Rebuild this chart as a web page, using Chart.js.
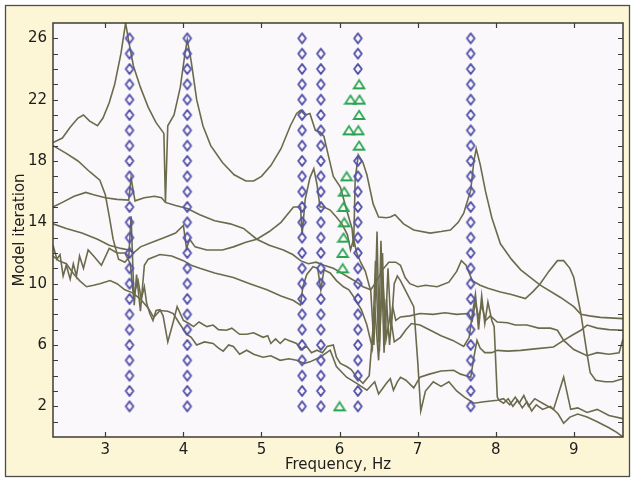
<!DOCTYPE html>
<html>
<head>
<meta charset="utf-8">
<script src="https://cdn.jsdelivr.net/npm/chart.js@4.4.1/dist/chart.umd.min.js"></script>
<style>
  html, body { margin: 0; padding: 0; background: #ffffff; }
</style>
</head>
<body>
<canvas id="modeChart" width="634" height="481"></canvas>
<script>
// ---- data ----
// axis
const xRange = [2.33, 9.63];
const yRange = [0, 27];
const yLabelValues = [2, 6, 10, 14, 18, 22, 26];

// diamond columns (frequency, Hz) and the iterations marked in each
const diamondFreqs = [3.31, 4.05, 5.52, 5.76, 6.235, 7.68];
const diamondIters = [
    [2, 3, 4, 5, 6, 7, 8, 9, 10, 11, 12, 13, 14, 15, 16, 17, 18, 19, 20, 21, 22, 23, 24, 25, 26],
    [2, 3, 4, 5, 6, 7, 8, 9, 10, 11, 12, 13, 14, 15, 16, 17, 18, 19, 20, 21, 22, 23, 24, 25, 26],
    [2, 3, 4, 5, 6, 7, 8, 9, 10, 11, 12, 13, 14, 15, 16, 17, 18, 19, 20, 21, 22, 23, 24, 25, 26],
    [2, 3, 4, 5, 6, 7, 8, 9, 10, 11, 12, 13, 14, 15, 16, 17, 18, 19, 20, 21, 22, 23, 24, 25],
    [2, 3, 4, 5, 6, 7, 8, 9, 10, 11, 12, 13, 14, 15, 16, 17, 18, 24, 25, 26],
    [2, 3, 4, 5, 6, 7, 8, 9, 10, 11, 12, 13, 14, 15, 16, 17, 18, 19, 20, 21, 22, 23, 24, 25, 26]
];

// green triangles
const triFreqs = [6.0, 6.04, 6.04, 6.05, 6.06, 6.05, 6.06, 6.09, 6.25, 6.12, 6.24, 6.25, 6.14, 6.255, 6.25];
const triIters = [2, 11, 12, 13, 14, 15, 16, 17, 19, 20, 20, 21, 22, 22, 23];

// olive curves, [frequency, iteration]
const curve1 = [[2.33,19.2],[2.45,19.5],[2.55,20.2],[2.65,20.8],[2.72,21.0],[2.8,20.6],[2.9,20.3],[2.97,20.8],[3.05,21.8],[3.12,23.0],[3.2,25.0],[3.26,27.0],[3.3,25.8],[3.36,24.2],[3.45,22.8],[3.55,21.5],[3.65,20.5],[3.75,19.8],[3.77,15.3],[3.8,20.3],[3.88,21.0],[3.96,22.8],[4.02,25.0],[4.05,25.9],[4.1,24.5],[4.17,22.0],[4.25,20.3],[4.35,19.0],[4.5,17.9],[4.65,17.1],[4.8,16.7],[4.9,16.7],[5.0,17.0],[5.12,17.7],[5.25,18.8],[5.37,20.3],[5.45,21.1],[5.5,21.3],[5.56,21.0],[5.62,21.1],[5.69,20.0],[5.75,19.9],[5.8,19.6],[5.85,18.5],[5.92,17.0],[6.01,16.3],[6.09,14.8],[6.16,13.6],[6.18,12.4],[6.2,16.8],[6.24,18.4],[6.3,17.9],[6.35,17.1],[6.43,15.2],[6.5,14.35],[6.6,14.3],[6.65,14.35],[6.71,14.5],[6.82,13.9],[6.95,13.5],[7.16,13.3],[7.3,13.4],[7.42,13.5],[7.52,14.0],[7.59,14.6],[7.68,16.1],[7.72,18.0],[7.75,18.8],[7.8,17.8],[7.87,16.0],[7.95,14.3],[8.06,12.6],[8.2,11.6],[8.32,10.9],[8.57,9.9],[8.83,9.1],[9.0,8.5],[9.09,8.0],[9.2,7.9],[9.34,7.8],[9.63,7.72]];
const curve2 = [[2.33,19.0],[2.5,18.5],[2.65,18.0],[2.8,17.3],[2.93,16.75],[3.0,15.8],[3.05,14.4],[3.1,12.9],[3.17,11.6],[3.25,11.4],[3.3,11.7],[3.33,14.4],[3.37,8.6],[3.4,10.6],[3.45,8.2],[3.5,11.2],[3.55,11.6],[3.7,11.9],[3.85,11.8],[4.0,11.5],[4.1,11.2],[4.21,11.0],[4.4,10.7],[4.64,10.4],[4.85,10.0],[5.07,9.6],[5.25,9.2],[5.41,8.9],[5.5,8.6],[5.53,9.8],[5.58,10.6],[5.66,11.1],[5.72,11.0],[5.76,9.6],[5.8,10.9],[5.88,10.7],[5.96,10.2],[6.05,9.8],[6.12,9.6],[6.2,9.0],[6.28,8.3],[6.35,7.3],[6.42,5.8],[6.46,11.5],[6.5,6.2],[6.53,12.8],[6.57,5.5],[6.6,9.0],[6.64,6.0],[6.68,8.5],[6.72,7.6],[6.78,7.83],[6.9,7.9],[7.03,8.05],[7.2,8.0],[7.35,8.1],[7.5,8.0],[7.65,8.05],[7.7,7.6],[7.74,8.8],[7.78,7.8],[7.82,8.6],[7.87,7.6],[7.93,7.9],[8.02,7.5],[8.15,7.45],[8.25,7.3],[8.4,7.3],[8.55,7.1],[8.7,7.1],[8.79,6.96],[8.87,6.3],[9.0,5.7],[9.17,5.3],[9.3,5.5],[9.45,5.4],[9.58,5.5],[9.63,6.4]];
const curve3 = [[2.33,15.0],[2.45,15.3],[2.6,15.7],[2.75,15.95],[2.85,15.8],[3.0,15.6],[3.15,15.5],[3.3,15.45],[3.33,16.9],[3.38,15.4],[3.5,15.6],[3.63,15.7],[3.72,15.6],[3.77,15.3],[3.9,15.1],[4.05,14.9],[4.21,14.5],[4.4,14.1],[4.6,13.9],[4.77,13.6],[4.94,12.9],[5.1,12.5],[5.28,12.2],[5.4,11.9],[5.5,11.5],[5.6,11.3],[5.7,11.4],[5.8,11.2],[5.92,11.0],[6.02,10.7],[6.12,10.4],[6.22,10.1],[6.3,9.8],[6.4,9.6],[6.48,10.2],[6.55,10.9],[6.63,11.4],[6.72,11.4],[6.78,11.2],[6.84,10.4],[6.9,10.0],[7.0,9.8],[7.1,9.9],[7.25,9.8],[7.4,10.1],[7.5,10.8],[7.56,11.5],[7.62,11.2],[7.7,10.2],[7.8,9.9],[7.9,9.7],[8.06,9.46],[8.2,9.3],[8.38,9.03],[8.48,9.5],[8.57,10.0],[8.68,10.8],[8.79,11.5],[8.87,11.5],[8.95,11.0],[9.0,10.4],[9.09,8.06],[9.17,5.4],[9.21,4.2],[9.28,3.7],[9.4,3.6],[9.5,3.6],[9.63,3.8]];
const curve4 = [[2.33,13.9],[2.5,13.6],[2.7,13.3],[2.9,12.9],[3.05,12.5],[3.2,12.3],[3.3,12.2],[3.36,12.0],[3.45,12.4],[3.6,12.7],[3.75,13.0],[3.9,13.3],[4.0,13.8],[4.04,12.3],[4.08,12.9],[4.15,12.4],[4.3,12.2],[4.5,12.2],[4.64,12.4],[4.8,12.7],[4.94,12.9],[5.1,13.4],[5.25,14.0],[5.41,15.0],[5.5,15.0],[5.52,13.2],[5.56,15.5],[5.62,16.9],[5.67,17.5],[5.71,16.5],[5.75,15.0],[5.8,15.0],[5.88,14.8],[5.95,14.4],[6.03,13.9],[6.1,13.2],[6.14,12.2],[6.18,12.9],[6.22,12.0],[6.27,11.4],[6.33,10.8],[6.4,9.5],[6.44,6.0],[6.48,13.4],[6.51,5.6],[6.55,12.0],[6.58,6.0],[6.62,11.0],[6.66,7.0],[6.7,10.0],[6.74,10.5],[6.78,10.2],[6.85,9.5],[6.95,8.5],[7.0,5.0],[7.04,1.7],[7.1,3.0],[7.2,3.6],[7.3,3.3],[7.4,3.6],[7.5,3.0],[7.6,2.6],[7.72,2.2],[7.85,2.3],[8.02,2.4],[8.1,2.5],[8.18,2.1],[8.25,2.6],[8.3,2.2],[8.36,2.7],[8.42,2.0],[8.5,2.5],[8.6,2.2],[8.74,1.8],[8.87,3.9],[8.96,1.8],[9.05,1.9],[9.17,1.6],[9.3,1.8],[9.45,1.4],[9.63,1.2]];
const curve5 = [[2.33,12.5],[2.38,11.6],[2.42,11.9],[2.46,10.5],[2.5,11.2],[2.55,10.3],[2.59,11.3],[2.63,10.5],[2.67,11.8],[2.72,11.0],[2.78,12.2],[2.85,11.8],[2.95,11.2],[3.05,12.3],[3.15,12.0],[3.25,12.0],[3.32,11.3],[3.36,9.2],[3.42,10.2],[3.46,9.0],[3.5,9.8],[3.53,8.7],[3.57,8.05],[3.61,7.6],[3.65,8.25],[3.7,8.3],[3.74,7.9],[3.8,6.2],[3.87,7.5],[3.92,8.5],[4.0,7.6],[4.07,7.4],[4.13,7.2],[4.2,7.5],[4.3,7.2],[4.38,7.3],[4.45,7.0],[4.55,6.96],[4.62,7.1],[4.72,6.7],[4.81,6.7],[4.9,6.8],[5.02,6.5],[5.08,6.6],[5.12,6.1],[5.18,6.4],[5.24,6.1],[5.3,6.4],[5.35,6.3],[5.45,6.1],[5.5,5.7],[5.58,5.9],[5.64,5.5],[5.71,5.66],[5.78,5.5],[5.84,5.9],[5.92,6.0],[5.96,5.2],[6.01,4.8],[6.09,4.6],[6.15,4.4],[6.22,3.9],[6.3,3.5],[6.38,4.0],[6.45,8.5],[6.5,5.0],[6.55,10.5],[6.6,6.5],[6.65,8.0],[6.7,6.2],[6.78,6.5],[6.85,7.0],[6.92,7.4],[7.03,7.3],[7.15,7.0],[7.3,6.6],[7.45,6.3],[7.59,5.9],[7.66,6.5],[7.7,8.0],[7.74,9.3],[7.78,7.0],[7.82,9.2],[7.86,7.4],[7.9,8.8],[7.95,7.6],[7.98,7.2],[8.02,2.6],[8.04,2.4],[8.1,2.2],[8.16,2.5],[8.22,2.0],[8.28,2.4],[8.34,1.9],[8.4,2.3],[8.46,1.7],[8.52,2.1],[8.6,1.8],[8.7,2.0],[8.8,1.5],[8.87,0.9],[8.95,1.3],[9.05,1.5],[9.17,1.3],[9.3,1.0],[9.45,0.6],[9.55,0.3],[9.63,0.0]];
const curve6 = [[2.33,11.8],[2.4,11.5],[2.5,11.3],[2.6,10.6],[2.67,10.2],[2.76,9.8],[2.85,9.9],[2.93,10.0],[3.06,10.2],[3.15,10.0],[3.25,9.6],[3.35,9.4],[3.45,9.0],[3.55,8.4],[3.62,7.8],[3.7,8.25],[3.8,8.2],[3.87,8.05],[3.95,7.4],[4.04,6.7],[4.1,6.5],[4.17,6.0],[4.27,6.2],[4.38,6.1],[4.45,5.8],[4.51,5.6],[4.58,6.0],[4.64,5.9],[4.72,5.4],[4.81,5.66],[4.9,5.4],[5.02,5.2],[5.12,5.3],[5.24,5.0],[5.35,5.1],[5.45,5.0],[5.55,4.8],[5.62,4.9],[5.75,5.2],[5.88,5.66],[5.96,4.6],[6.09,3.9],[6.22,3.5],[6.35,3.05],[6.45,3.6],[6.5,2.8],[6.6,3.5],[6.65,3.8],[6.69,3.05],[6.74,3.6],[6.78,3.9],[6.85,3.7],[6.95,3.2],[7.03,3.9],[7.15,4.1],[7.3,4.3],[7.46,4.35],[7.55,4.1],[7.62,4.0],[7.68,3.9],[7.72,5.2],[7.76,6.3],[7.8,5.8],[7.86,5.5],[7.95,5.5],[8.02,5.65],[8.15,5.6],[8.32,5.65],[8.5,5.75],[8.74,5.87],[8.87,6.3],[9.0,6.7],[9.09,6.96],[9.17,7.3],[9.3,7.1],[9.45,7.0],[9.63,6.96]];
const curves = [curve1, curve2, curve3, curve4, curve5, curve6];

// ---- styling ----
const lineColor = '#6b6b4c';
const diamondColor = '#5454aa';
const triangleColor = '#2aa650';
const textColor = '#1c1c1c';
const fontFamily = '"DejaVu Sans", "Liberation Sans", Arial, sans-serif';

// small canvas markers (diamonds are a little taller than wide in the figure)
function makeDiamond() {
    const c = document.createElement('canvas');
    c.width = 12; c.height = 14;
    const g = c.getContext('2d');
    g.strokeStyle = diamondColor;
    g.lineWidth = 2;
    g.lineJoin = 'round';
    g.beginPath();
    g.moveTo(6, 2); g.lineTo(9.8, 7); g.lineTo(6, 12); g.lineTo(2.2, 7);
    g.closePath();
    g.stroke();
    return c;
}
function makeTriangle() {
    const c = document.createElement('canvas');
    c.width = 14; c.height = 12;
    const g = c.getContext('2d');
    g.strokeStyle = triangleColor;
    g.lineWidth = 1.8;
    g.beginPath();
    g.moveTo(7, 1.8); g.lineTo(12.3, 10); g.lineTo(1.7, 10);
    g.closePath();
    g.stroke();
    return c;
}
const diamondImg = makeDiamond();
const triangleImg = makeTriangle();

const datasets = [];
curves.forEach(function (cv, i) {
    datasets.push({
        label: 'curve ' + (i + 1),
        data: cv.map(function (p) { return { x: p[0], y: p[1] }; }),
        showLine: true,
        borderColor: lineColor,
        borderWidth: 1.6,
        pointRadius: 0,
        tension: 0,
        order: 2
    });
});
diamondFreqs.forEach(function (f, i) {
    datasets.push({
        label: 'mode ' + f,
        data: diamondIters[i].map(function (it) { return { x: f, y: it }; }),
        showLine: false,
        pointStyle: diamondImg,
        pointRadius: 5,
        order: 1
    });
});
datasets.push({
    label: 'triangles',
    data: triFreqs.map(function (f, i) { return { x: f, y: triIters[i] }; }),
    showLine: false,
    pointStyle: triangleImg,
    pointRadius: 6,
    order: 0
});

// frame, plot background and inward tick marks
const framePlugin = {
    id: 'frame',
    beforeDraw(chart) {
        const ctx = chart.ctx, a = chart.chartArea;
        ctx.save();
        ctx.fillStyle = '#ffffff';
        ctx.fillRect(0, 0, chart.width, chart.height);
        ctx.fillStyle = '#fcf6d6';
        ctx.fillRect(5.5, 5.5, 624, 471);
        ctx.strokeStyle = '#4d4d4d';
        ctx.lineWidth = 1.3;
        ctx.strokeRect(5.5, 5.5, 624, 471);
        ctx.fillStyle = '#fbf8fc';
        ctx.fillRect(a.left, a.top, a.right - a.left, a.bottom - a.top);
        ctx.restore();
    },
    afterDatasetsDraw(chart) {
        const ctx = chart.ctx, a = chart.chartArea;
        const xs = chart.scales.x, ys = chart.scales.y;
        const len = 5;
        ctx.save();
        ctx.strokeStyle = '#3c3c36';
        ctx.lineWidth = 1.2;
        ctx.beginPath();
        xs.ticks.forEach(function (t) {
            if (t.value <= xRange[0] || t.value >= xRange[1]) return;
            const px = Math.round(xs.getPixelForValue(t.value)) + 0.5;
            ctx.moveTo(px, a.bottom); ctx.lineTo(px, a.bottom - len);
            ctx.moveTo(px, a.top); ctx.lineTo(px, a.top + len);
        });
        ys.ticks.forEach(function (t) {
            if (t.value <= yRange[0] || t.value >= yRange[1]) return;
            const py = Math.round(ys.getPixelForValue(t.value)) + 0.5;
            ctx.moveTo(a.left, py); ctx.lineTo(a.left + len, py);
            ctx.moveTo(a.right, py); ctx.lineTo(a.right - len, py);
        });
        ctx.stroke();
        ctx.lineWidth = 1.5;
        ctx.strokeRect(a.left, a.top, a.right - a.left, a.bottom - a.top);
        ctx.restore();
    }
};

new Chart(document.getElementById('modeChart'), {
    type: 'scatter',
    data: { datasets: datasets },
    options: {
        responsive: false,
        animation: false,
        devicePixelRatio: 1,
        layout: { padding: { left: 0, top: 23, right: 11, bottom: 0 } },
        plugins: {
            legend: { display: false },
            tooltip: { enabled: false }
        },
        scales: {
            x: {
                type: 'linear',
                min: xRange[0],
                max: xRange[1],
                grid: { display: false, drawTicks: false },
                border: { display: false },
                ticks: {
                    stepSize: 1,
                    includeBounds: false,
                    autoSkip: false,
                    maxRotation: 0,
                    padding: 4,
                    color: textColor,
                    font: { family: fontFamily, size: 15 },
                    callback: function (v) { return Number.isInteger(v) ? String(v) : ''; }
                },
                title: {
                    display: true,
                    text: 'Frequency, Hz',
                    color: textColor,
                    font: { family: fontFamily, size: 15 },
                    padding: { top: 0, bottom: 7 }
                },
                afterFit: function (s) { s.height = 44; }
            },
            y: {
                type: 'linear',
                min: yRange[0],
                max: yRange[1],
                grid: { display: false, drawTicks: false },
                border: { display: false },
                ticks: {
                    stepSize: 1,
                    includeBounds: false,
                    autoSkip: false,
                    padding: 6,
                    color: textColor,
                    font: { family: fontFamily, size: 15 },
                    callback: function (v) { return yLabelValues.indexOf(v) >= 0 ? String(v) : ''; }
                },
                title: {
                    display: true,
                    text: 'Model iteration',
                    color: textColor,
                    font: { family: fontFamily, size: 15 },
                    padding: { top: 11, bottom: 0 }
                },
                afterFit: function (s) { s.width = 53; }
            }
        }
    },
    plugins: [framePlugin]
});
</script>
</body>
</html>
